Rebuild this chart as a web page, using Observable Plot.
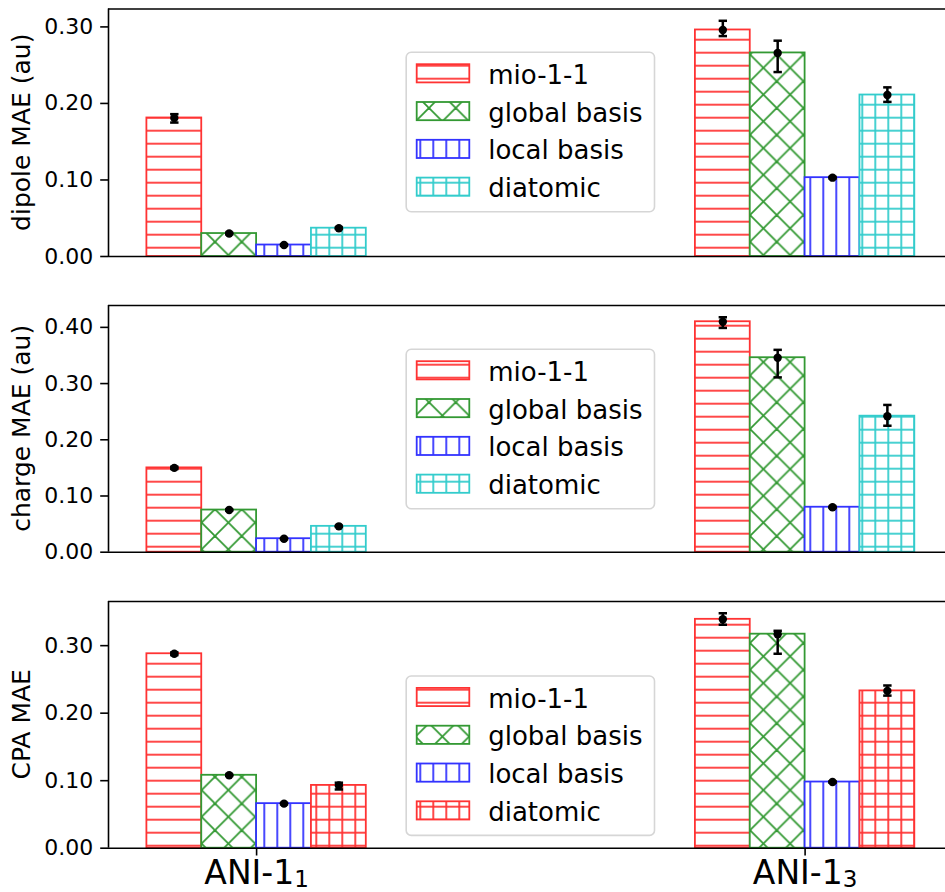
<!DOCTYPE html>
<html>
<head>
<meta charset="utf-8">
<script src="https://cdn.jsdelivr.net/npm/d3@7"></script>
<script src="https://cdn.jsdelivr.net/npm/@observablehq/plot@0.6"></script>
<style>
  html, body { margin: 0; padding: 0; background: #fff; overflow: hidden; }
  #chart { width: 945px; height: 892px; position: relative; }
  #chart svg { display: block; }
</style>
</head>
<body>
<div id="chart"></div>
<script>
// Methods compared, their hatch styles, and the two test sets
const methods = ["mio-1-1", "global basis", "local basis", "diatomic"];
const methodHatches = ["-", "x", "|", "+"];
const groupNames = ["ANI-1", "ANI-1"];
const groupSubs = ["1", "3"];
const groupPositions = [0, 1];

// Mean absolute errors: one row per test set, one entry per method
const dipoleMAE     = [[0.181, 0.030, 0.015, 0.037], [0.296, 0.266, 0.103, 0.211]];
const dipoleErrLow  = [[0.006, 0.001, 0.001, 0.001], [0.008, 0.025, 0.001, 0.009]];
const dipoleErrHigh = [[0.005, 0.001, 0.001, 0.001], [0.012, 0.016, 0.001, 0.010]];

const chargeMAE     = [[0.150, 0.075, 0.024, 0.046], [0.410, 0.346, 0.080, 0.242]];
const chargeErrLow  = [[0.002, 0.001, 0.001, 0.001], [0.011, 0.035, 0.001, 0.017]];
const chargeErrHigh = [[0.002, 0.001, 0.001, 0.001], [0.008, 0.014, 0.001, 0.020]];

const cpaMAE        = [[0.288, 0.108, 0.066, 0.093], [0.339, 0.317, 0.098, 0.233]];
const cpaErrLow     = [[0.002, 0.001, 0.001, 0.006], [0.008, 0.029, 0.001, 0.007]];
const cpaErrHigh    = [[0.002, 0.001, 0.001, 0.004], [0.009, 0.005, 0.001, 0.008]];

// Colours (red, green, blue, cyan at 80% opacity over white)
const colorsDefault = ["#ff3333", "#339933", "#3333ff", "#33cccc"];
const colorsCPA     = ["#ff3333", "#339933", "#3333ff", "#ff3333"];

// Layout
const W = 945;
const barWidth = 0.1;
const xDomain = [-0.27, 1.27];
const xRange = [108, 952.7];
const FONT = "DejaVu Sans";

const panels = [
  {label: "dipole MAE (au)", values: dipoleMAE, lo: dipoleErrLow, hi: dipoleErrHigh, colors: colorsDefault,
   top: 0, height: 280, marginTop: 8.5, marginBottom: 24, legendTop: 52.3, xAxis: false},
  {label: "charge MAE (au)", values: chargeMAE, lo: chargeErrLow, hi: chargeErrHigh, colors: colorsDefault,
   top: 280, height: 300, marginTop: 25, marginBottom: 28.3, legendTop: 349.3, xAxis: false},
  {label: "CPA MAE", values: cpaMAE, lo: cpaErrLow, hi: cpaErrHigh, colors: colorsCPA,
   top: 580, height: 312, marginTop: 21, marginBottom: 44.3, legendTop: 676, xAxis: true}
];

const mod = (a, n) => ((a % n) + n) % n;

// Horizontal line used for error-bar caps
const capSymbol = {
  draw(ctx, size) {
    const w = Math.sqrt(size / Math.PI);
    ctx.moveTo(-w, 0);
    ctx.lineTo(w, 0);
  }
};

// Hatch patterns, anchored to page coordinates so they line up across panels
function addPatterns(svg, prefix, colors, T) {
  const defs = d3.select(svg).insert("defs", ":first-child");
  methods.forEach((m, mi) => {
    const kind = methodHatches[mi];
    const S = kind === "x" ? 26.75 : 13;
    let px, py;
    if (kind === "x") { px = 0.975; py = mod(0.975 - T, S); }
    else { px = 4.3; py = mod(0.7 - T, S); }
    const p = defs.append("pattern")
      .attr("id", `${prefix}-${mi}`)
      .attr("patternUnits", "userSpaceOnUse")
      .attr("width", S).attr("height", S)
      .attr("x", px).attr("y", py);
    p.append("rect").attr("width", S).attr("height", S).attr("fill", "white");
    const lines = [];
    if (kind === "-" || kind === "+") lines.push([0, 0, S, 0], [0, S, S, S]);
    if (kind === "|" || kind === "+") lines.push([0, 0, 0, S], [S, 0, S, S]);
    if (kind === "x") {
      for (const d of [-S, 0, S]) {
        lines.push([-S, -S + d, 2 * S, 2 * S + d]);
        lines.push([-S, 2 * S + d, 2 * S, -S + d]);
      }
    }
    p.selectAll("line").data(lines).join("line")
      .attr("x1", d => d[0]).attr("y1", d => d[1])
      .attr("x2", d => d[2]).attr("y2", d => d[3])
      .attr("stroke", colors[mi]).attr("stroke-width", 1.8);
  });
}

function addLegend(svg, cfg, prefix) {
  const s = d3.select(svg);
  const cx = (xRange[0] + xRange[1]) / 2;
  const bw = 248.3, bh = 159.4;
  const left = cx - bw / 2, top = cfg.legendTop - cfg.top;
  const g = s.append("g")
    .attr("font-family", FONT).attr("font-size", 26)
    .attr("fill", "black").attr("text-anchor", "start");
  g.append("rect")
    .attr("x", left).attr("y", top).attr("width", bw).attr("height", bh).attr("rx", 5)
    .attr("fill", "white").attr("fill-opacity", 0.8)
    .attr("stroke", "#d6d6d6").attr("stroke-width", 1.6);
  methods.forEach((m, i) => {
    const cy = top + 21 + i * 37.8;
    g.append("rect")
      .attr("x", left + 10.5).attr("y", cy - 9.1).attr("width", 52.6).attr("height", 18.2)
      .attr("fill", `url(#${prefix}-${i})`)
      .attr("stroke", cfg.colors[i]).attr("stroke-width", 1.8);
    g.append("text")
      .attr("x", left + 82).attr("y", cy + 10.5)
      .attr("text-anchor", "start")
      .text(m);
  });
}

const chart = document.getElementById("chart");

panels.forEach((cfg, pi) => {
  const prefix = `hatch${pi}`;
  const rows = [];
  groupPositions.forEach((gx, gi) => {
    methods.forEach((m, mi) => {
      const v = cfg.values[gi][mi];
      const x1 = gx + (mi - 2) * barWidth;
      rows.push({
        group: gi, method: mi, value: v,
        x1, x2: x1 + barWidth, xc: x1 + barWidth / 2,
        lo: v - cfg.lo[gi][mi], hi: v + cfg.hi[gi][mi]
      });
    });
  });
  const ymax = d3.max(rows, d => d.hi) * 1.05;
  const yTicks = d3.range(0, ymax + 1e-9, 0.1);

  const marks = [];
  methods.forEach((m, mi) => {
    marks.push(Plot.rect(rows.filter(r => r.method === mi), {
      x1: "x1", x2: "x2", y1: () => 0, y2: "value",
      fill: `url(#${prefix}-${mi})`,
      stroke: cfg.colors[mi], strokeWidth: 1.8
    }));
  });
  marks.push(
    Plot.ruleX(rows, {x: "xc", y1: "lo", y2: "hi", stroke: "black", strokeWidth: 2.5}),
    Plot.dot(rows, {x: "xc", y: "lo", symbol: capSymbol, r: 4.2, stroke: "black", strokeWidth: 2.5, fill: "none"}),
    Plot.dot(rows, {x: "xc", y: "hi", symbol: capSymbol, r: 4.2, stroke: "black", strokeWidth: 2.5, fill: "none"}),
    Plot.dot(rows, {x: "xc", y: "value", r: 4.2, fill: "black", stroke: "none"}),
    // axes frame: bottom, top and left spines
    Plot.ruleY([0, ymax], {x1: xDomain[0], x2: xDomain[1], stroke: "black", strokeWidth: 1.6}),
    Plot.ruleX([xDomain[0]], {y1: 0, y2: ymax, stroke: "black", strokeWidth: 1.6}),
    Plot.axisY(yTicks, {
      tickSize: 7.8, tickPadding: 7.4, fontSize: 22, strokeWidth: 1.6,
      tickFormat: d3.format(".2f"), label: null
    })
  );
  if (cfg.xAxis) {
    marks.push(Plot.axisX(groupPositions, {
      tickSize: 7.8, tickPadding: 5, fontSize: 33, strokeWidth: 1.6,
      tickFormat: d => groupNames[groupPositions.indexOf(d)], label: null
    }));
  }

  const svg = Plot.plot({
    width: W,
    height: cfg.height,
    marginLeft: xRange[0],
    marginRight: 0,
    marginTop: cfg.marginTop,
    marginBottom: cfg.marginBottom,
    style: {fontFamily: FONT, fontSize: "22px", color: "black", background: "white"},
    x: {domain: xDomain, range: xRange, axis: null},
    y: {domain: [0, ymax], label: null, axis: null},
    marks
  });

  addPatterns(svg, prefix, cfg.colors, cfg.top);

  // subscripts on the test-set names
  if (cfg.xAxis) {
    d3.select(svg).selectAll('g[aria-label="x-axis tick label"] text').each(function(d, i) {
      d3.select(this).append("tspan").attr("dy", 2.5).attr("font-size", 23).text(groupSubs[i]);
    });
  }

  // y-axis title
  const cy = cfg.marginTop + (cfg.height - cfg.marginTop - cfg.marginBottom) / 2;
  d3.select(svg).append("text")
    .attr("transform", `translate(29.5,${cy}) rotate(-90)`)
    .attr("text-anchor", "middle")
    .attr("font-family", FONT).attr("font-size", 25).attr("fill", "black")
    .text(cfg.label);

  addLegend(svg, cfg, prefix);
  chart.appendChild(svg);
});
</script>
</body>
</html>
